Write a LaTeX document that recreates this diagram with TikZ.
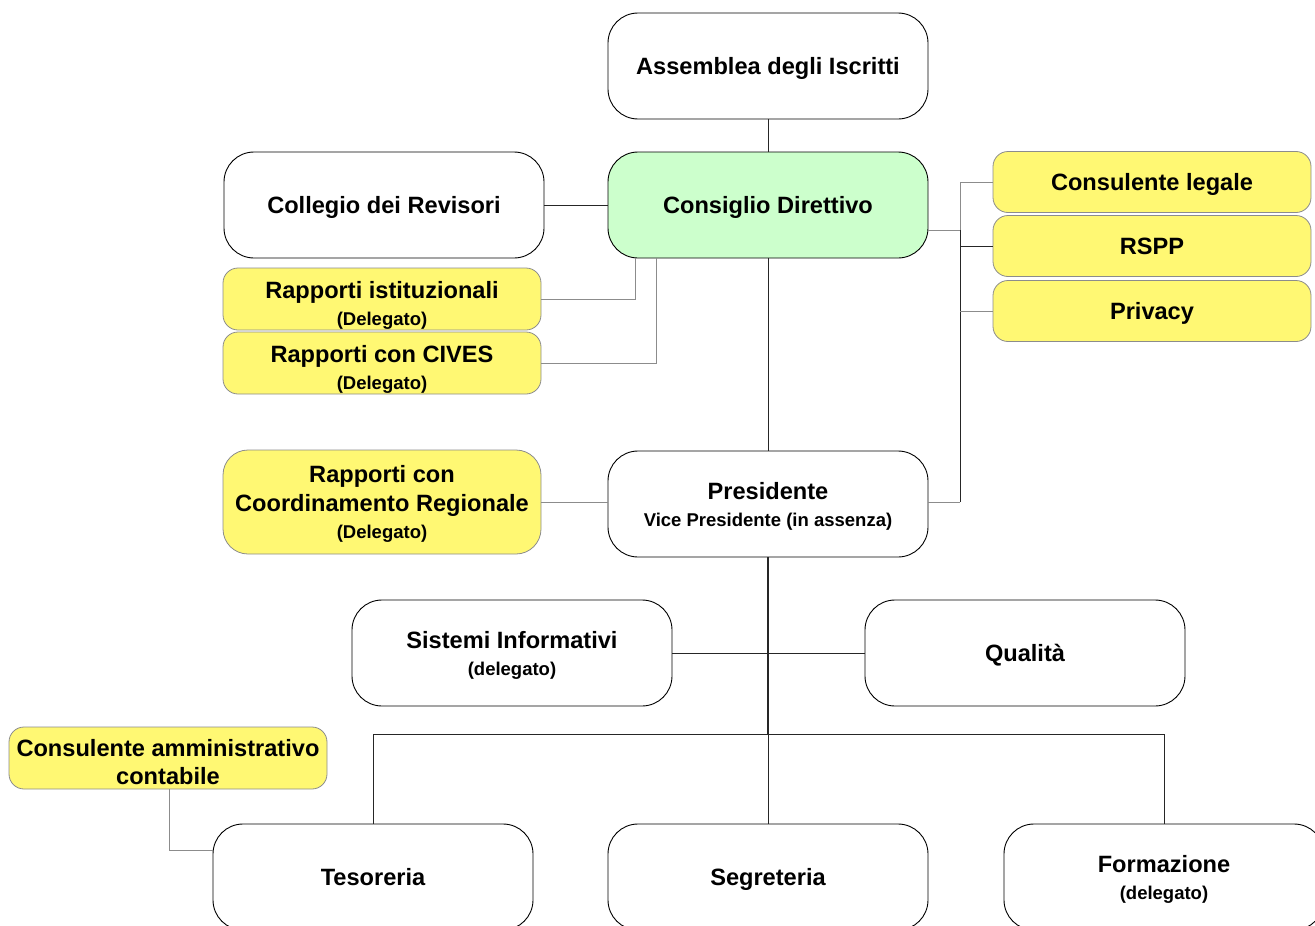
\documentclass[tikz,border=0pt]{standalone}
\usepackage{fontspec}
\setmainfont{Liberation Sans}
\begin{document}
\begin{tikzpicture}[x=1pt,y=-1pt,
  base/.style={rectangle,align=center,font=\bfseries\fontsize{23.6}{29}\selectfont,inner sep=2pt,text depth=0pt},
  box/.style={base,draw=black,line width=0.9pt,fill=white,rounded corners=30pt,minimum width=320pt,minimum height=106pt},
  grn/.style={box,fill=green!20},
  yel/.style={base,draw=black!45,line width=0.8pt,fill=yellow!55,rounded corners=15pt,minimum width=318pt,minimum height=62pt},
  yelbig/.style={yel,minimum height=104pt,rounded corners=25pt},
  line/.style={draw=black!85,line width=0.8pt},
  gline/.style={draw=black!45,line width=0.8pt}]
\useasboundingbox (0,0) rectangle (1315,926);
\clip (0,0) rectangle (1315,926);
\newcommand{\smtxt}[1]{{\fontsize{18.5}{22}\selectfont #1}}
\newcommand{\lowstrut}{\rule{0pt}{25pt}}
% nodes
\node[box] (ass) at (768,66) {Assemblea degli Iscritti};
\node[grn] (cd) at (768,205) {Consiglio Direttivo};
\node[box] (col) at (384,205) {Collegio dei Revisori};
\node[yel] (ri) at (382,299) {\lowstrut Rapporti istituzionali\\[-2pt]\smtxt{(Delegato)}};
\node[yel] (rc) at (382,363) {\lowstrut Rapporti con CIVES\\[-2pt]\smtxt{(Delegato)}};
\node[yelbig] (rcr) at (382,502) {Rapporti con\\Coordinamento Regionale\\[-2pt]\smtxt{(Delegato)}};
\node[box] (pres) at (768,504) {Presidente\\[-2pt]\smtxt{Vice Presidente (in assenza)}};
\node[yel,minimum height=61pt] (cl) at (1152,182) {Consulente legale};
\node[yel,minimum height=61pt] (rspp) at (1152,246) {RSPP};
\node[yel,minimum height=61pt] (priv) at (1152,311) {Privacy};
\node[box] (si) at (512,653) {Sistemi Informativi\\[-2pt]\smtxt{(delegato)}};
\node[box] (qu) at (1025,653) {Qualità};
\node[yel] (cac) at (168,758) {\lowstrut Consulente amministrativo\\[-1pt]contabile};
\node[box] (tes) at (373,877) {Tesoreria};
\node[box] (seg) at (768,877) {Segreteria};
\node[box] (for) at (1164,877) {Formazione\\[-2pt]\smtxt{(delegato)}};
% coordinates
\coordinate (rv) at (960,230);
\coordinate (rb) at (960,502);
\coordinate (k1) at (635,258);
\coordinate (k2) at (656,258);
\coordinate (hb) at (768,734);
\coordinate (hl) at (373,734);
\coordinate (hr) at (1164,734);
\coordinate (ka) at (169,850);
% connectors
\draw[line] (ass.south) -- (cd.north);
\draw[line] (col.east) -- (cd.west);
\draw[line] (cd.south) -- (pres.north);
\draw[gline] (ri.east) -| (k1);
\draw[gline] (rc.east) -| (k2);
\draw[gline] (rcr.east) -- (pres.west |- rcr.east);
\draw[gline] (cd.east |- rv) -- (rv);
\draw[gline] (cl.west) -| (rv);
\draw[line] (rv) -- (rb);
\draw[line] (rspp.west) -- (rspp.west -| rv);
\draw[gline] (priv.west) -- (priv.west -| rv);
\draw[gline] (rb) -- (pres.east |- rb);
\draw[line,line width=1.1pt] (pres.south) -- (hb);
\draw[line] (si.east) -- (qu.west);
\draw[line] (hl) -- (hr);
\draw[line] (hl) -- (tes.north);
\draw[line] (hb) -- (seg.north);
\draw[line] (hr) -- (for.north);
\draw[gline] (cac.south -| ka) -- (ka) -- (tes.west |- ka);
\end{tikzpicture}
\end{document}
